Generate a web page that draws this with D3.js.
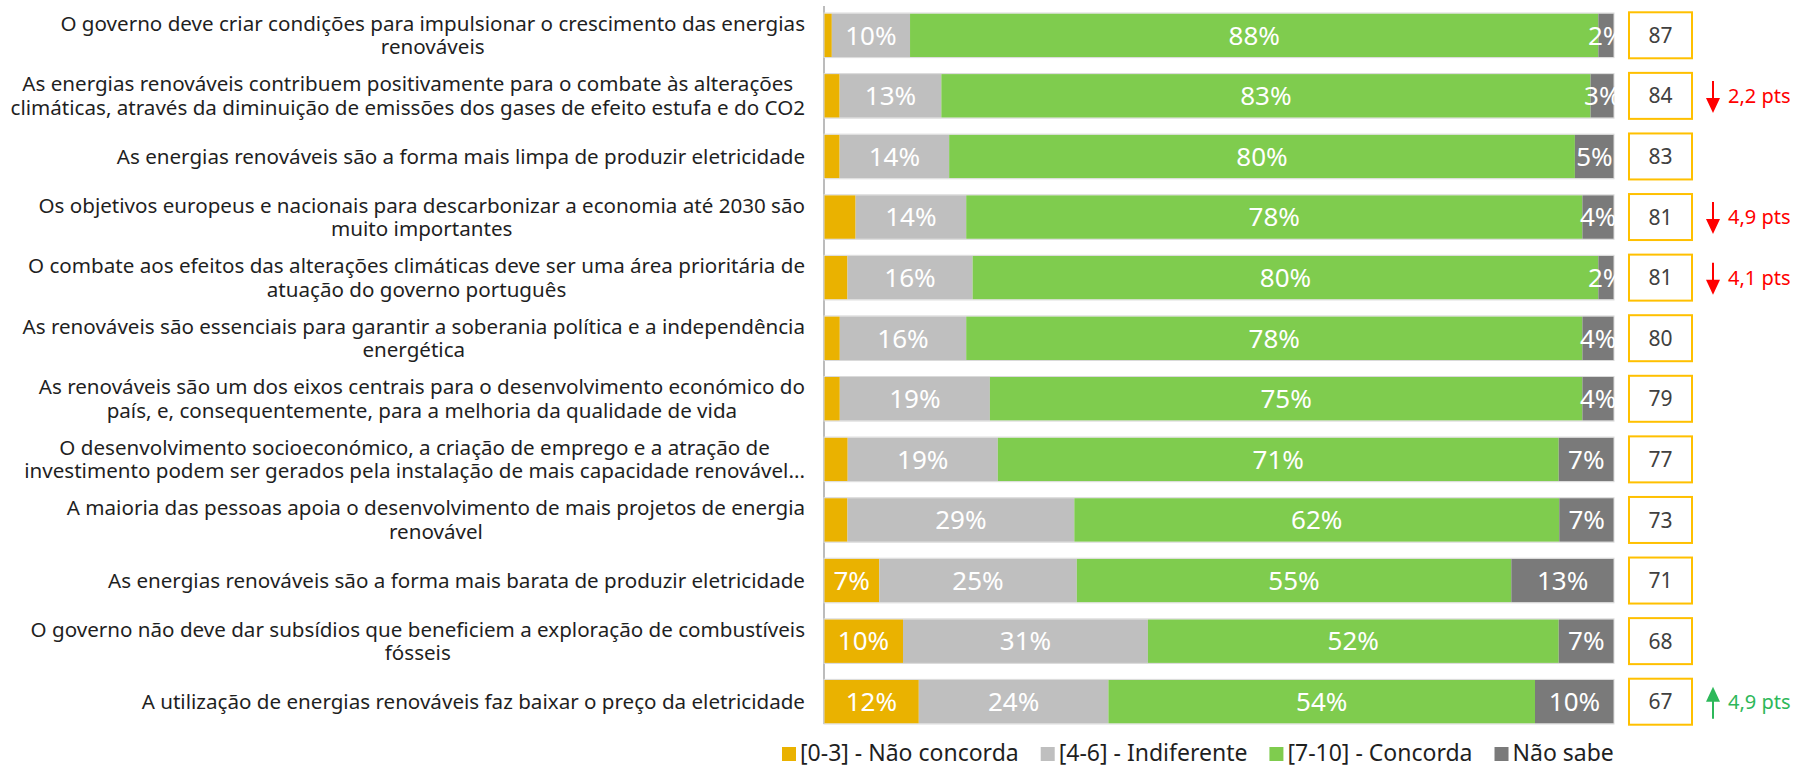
<!DOCTYPE html>
<html>
<head>
<meta charset="utf-8">
<script src="https://cdn.jsdelivr.net/npm/d3@7"></script>
<style>
  body { margin: 0; background: #fff; }
  svg text { font-family: 'Noto Sans', 'Open Sans', sans-serif; }
</style>
</head>
<body>
<div class="graph"></div>
<script>
// category labels, "\n" = line break as in the original chart
let categories = [
    'O governo deve criar condições para impulsionar o crescimento das energias\nrenováveis',
    'As energias renováveis contribuem positivamente para o combate às alterações\nclimáticas, através da diminuição de emissões dos gases de efeito estufa e do CO2',
    'As energias renováveis são a forma mais limpa de produzir eletricidade',
    'Os objetivos europeus e nacionais para descarbonizar a economia até 2030 são\nmuito importantes',
    'O combate aos efeitos das alterações climáticas deve ser uma área prioritária de\natuação do governo português',
    'As renováveis são essenciais para garantir a soberania política e a independência\nenergética',
    'As renováveis são um dos eixos centrais para o desenvolvimento económico do\npaís, e, consequentemente, para a melhoria da qualidade de vida',
    'O desenvolvimento socioeconómico, a criação de emprego e a atração de\ninvestimento podem ser gerados pela instalação de mais capacidade renovável...',
    'A maioria das pessoas apoia o desenvolvimento de mais projetos de energia\nrenovável',
    'As energias renováveis são a forma mais barata de produzir eletricidade',
    'O governo não deve dar subsídios que beneficiem a exploração de combustíveis\nfósseis',
    'A utilização de energias renováveis faz baixar o preço da eletricidade'
]

let naoConcorda = [1, 2, 2, 4, 3, 2, 2, 3, 3, 7, 10, 12]
let indiferente = [10, 13, 14, 14, 16, 16, 19, 19, 29, 25, 31, 24]
let concorda = [88, 83, 80, 78, 80, 78, 75, 71, 62, 55, 52, 54]
let naoSabe = [2, 3, 5, 4, 2, 4, 4, 7, 7, 13, 7, 10]

let scores = [87, 84, 83, 81, 81, 80, 79, 77, 73, 71, 68, 67]
let deltas = [null, -2.2, null, -4.9, -4.1, null, null, null, null, null, null, 4.9]

let seriesNames = ['[0-3] - Não concorda', '[4-6] - Indiferente', '[7-10] - Concorda', 'Não sabe']
let seriesColors = ['#EAB200', '#BFBFBF', '#7FCC4E', '#7A7A7A']

let width = 1796,
    height = 768

let rows = categories.map(function(c, i) {
    let vals = [naoConcorda[i], indiferente[i], concorda[i], naoSabe[i]]
    let total = d3.sum(vals)
    let acc = 0
    let segs = vals.map(function(v, k) {
        let s = { k: k, v: v, x0: acc / total * 100, x1: (acc + v) / total * 100 }
        acc += v
        return s
    })
    return { cat: c, i: i, segs: segs, score: scores[i], delta: deltas[i] }
})

let x = d3.scaleLinear().domain([0, 100]).range([824, 1614])
let y = d3.scaleBand().domain(categories).range([5, 732]).paddingInner(0.28).paddingOuter(0.14)

let svg = d3.select('.graph').append('svg')
    .attr('width', width)
    .attr('height', height)

// vertical axis line
svg.append('line')
    .attr('x1', x(0)).attr('x2', x(0))
    .attr('y1', 6).attr('y2', 724)
    .attr('stroke', '#A6A6A6')
    .attr('stroke-width', 1.5)

let row = svg.selectAll('g.row').data(rows).enter().append('g')
    .attr('class', 'row')
    .attr('transform', function(d) { return 'translate(0,' + y(d.cat) + ')' })

let bw = y.bandwidth()

row.selectAll('rect.seg').data(function(d) { return d.segs }).enter().append('rect')
    .attr('class', 'seg')
    .attr('x', function(d) { return x(d.x0) })
    .attr('width', function(d) { return x(d.x1) - x(d.x0) })
    .attr('y', 0)
    .attr('height', bw)
    .attr('fill', function(d) { return seriesColors[d.k] })

// light outline around each bar
row.append('rect')
    .attr('x', x(0)).attr('width', x(100) - x(0))
    .attr('y', -0.5).attr('height', bw + 1)
    .attr('fill', 'none')
    .attr('stroke', '#DADADA')
    .attr('stroke-width', 1)

row.selectAll('text.val').data(function(d) {
        return d.segs.filter(function(s) { return s.k > 0 || s.v >= 5 })
    }).enter().append('text')
    .attr('class', 'val')
    .attr('x', function(d) { return (x(d.x0) + x(d.x1)) / 2 })
    .attr('y', bw / 2)
    .attr('dy', '0.36em')
    .attr('text-anchor', 'middle')
    .attr('fill', '#fff')
    .style('font-size', '26px')
    .text(function(d) { return d.v + '%' })

// category labels: block right aligned, lines centred inside the block
row.each(function(d) {
    let g = d3.select(this)
    let lines = d.cat.split('\n')
    let t = g.append('text')
        .attr('fill', '#1F1F1F')
        .style('font-size', '20.6px')
    let spans = lines.map(function(l, j) {
        return t.append('tspan')
            .attr('text-anchor', 'middle')
            .attr('y', bw / 2 + (j - (lines.length - 1) / 2) * 23.5)
            .attr('dy', '0.35em')
            .text(l)
    })
    let maxW = d3.max(spans, function(s) { return s.node().getComputedTextLength() })
    spans.forEach(function(s) { s.attr('x', 805 - maxW / 2) })
})

// score boxes
row.append('rect')
    .attr('x', 1629).attr('width', 63)
    .attr('y', bw / 2 - 23).attr('height', 46)
    .attr('fill', '#fff')
    .attr('stroke', '#FFC000')
    .attr('stroke-width', 2)

row.append('text')
    .attr('x', 1660.5)
    .attr('y', bw / 2)
    .attr('dy', '0.36em')
    .attr('text-anchor', 'middle')
    .attr('fill', '#404040')
    .style('font-size', '21px')
    .text(function(d) { return d.score })

// change vs previous wave
let deltaRows = row.filter(function(d) { return d.delta !== null })

deltaRows.each(function(d) {
    let g = d3.select(this)
    let c = d.delta < 0 ? '#FF0000' : '#2DB85A'
    let cy = bw / 2
    let ax = 1713
    if (d.delta < 0) {
        g.append('line').attr('x1', ax).attr('x2', ax).attr('y1', cy - 15).attr('y2', cy + 4)
            .attr('stroke', c).attr('stroke-width', 2)
        g.append('path').attr('d', 'M' + (ax - 7) + ',' + (cy + 2) + 'L' + (ax + 7) + ',' + (cy + 2) + 'L' + ax + ',' + (cy + 17) + 'Z')
            .attr('fill', c)
    } else {
        g.append('line').attr('x1', ax).attr('x2', ax).attr('y1', cy + 17).attr('y2', cy - 2)
            .attr('stroke', c).attr('stroke-width', 2)
        g.append('path').attr('d', 'M' + (ax - 7) + ',' + cy + 'L' + (ax + 7) + ',' + cy + 'L' + ax + ',' + (cy - 15) + 'Z')
            .attr('fill', c)
    }
    g.append('text')
        .attr('x', 1728)
        .attr('y', cy)
        .attr('dy', '0.36em')
        .attr('fill', c)
        .style('font-size', '20px')
        .text(d3.format('.1f')(Math.abs(d.delta)).replace('.', ',') + ' pts')
})

// legend
let legend = svg.append('g').attr('transform', 'translate(782,761)')
let lx = 0
seriesNames.forEach(function(name, k) {
    let item = legend.append('g').attr('transform', 'translate(' + lx + ',0)')
    item.append('rect')
        .attr('x', 0).attr('y', -14)
        .attr('width', 14).attr('height', 14)
        .attr('fill', seriesColors[k])
    let t = item.append('text')
        .attr('x', 18).attr('y', 0)
        .attr('fill', '#1F1F1F')
        .style('font-size', '23px')
        .text(name)
    lx += 18 + t.node().getComputedTextLength() + 22
})
</script>
</body>
</html>
